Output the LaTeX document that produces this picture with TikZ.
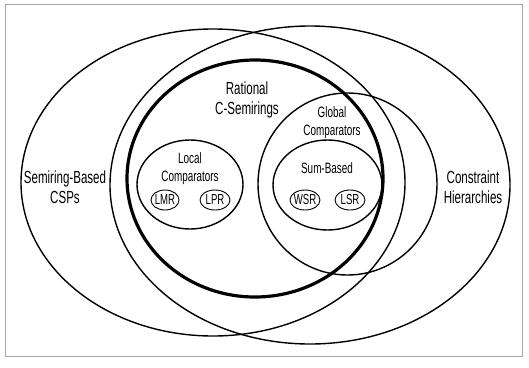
\documentclass[tikz,border=0pt]{standalone}
\usepackage{fontspec}
\setmainfont{Liberation Sans}[FakeStretch=0.66]
\begin{document}
\begin{tikzpicture}[x=1pt,y=-1pt,
  ring/.style={draw=black,line width=1.4pt},
  thickring/.style={draw=black,line width=3.2pt},
  smallring/.style={draw=black,line width=0.9pt},
  biglabel/.style={font=\fontsize{17.5}{20}\selectfont,align=center,inner sep=0pt},
  midlabel/.style={font=\fontsize{15}{18}\selectfont,align=center,inner sep=0pt},
  tinylabel/.style={font=\fontsize{14.5}{16}\selectfont,inner sep=0pt}]
\useasboundingbox (0,0) rectangle (529,367);
\draw[gray!70,line width=1pt] (5.5,4.5) rectangle (522,356.5);
% big ellipses
\draw[ring] (213,182.5) ellipse [x radius=192, y radius=153.5];
\draw[ring] (310,185) ellipse [x radius=200, y radius=159];
\draw[thickring] (255,178.5) ellipse [x radius=128, y radius=118.5];
\draw[ring] (347.5,184) ellipse [x radius=89.5, y radius=91];
\draw[ring] (190,184.5) ellipse [x radius=53, y radius=44.5];
\draw[ring] (327.5,185) ellipse [x radius=54.5, y radius=45];
% small ellipses
\draw[smallring] (165,200) ellipse [x radius=14, y radius=10];
\draw[smallring] (215,200) ellipse [x radius=15, y radius=10];
\draw[smallring] (305,200) ellipse [x radius=15, y radius=10];
\draw[smallring] (350,200) ellipse [x radius=15, y radius=10];
% labels
\node[biglabel] (sb) at (65,187) {Semiring-Based\\CSPs};
\node[biglabel] (ch) at (473,187) {Constraint\\Hierarchies};
\node[biglabel] (rc) at (247,100) {Rational\\C-Semirings};
\node[midlabel] (gc) at (332,122.5) {Global\\Comparators};
\node[midlabel] (lc) at (190,168.5) {Local\\Comparators};
\node[midlabel] (sum) at (327,168) {Sum-Based};
\node[tinylabel] (lmr) at (165,200) {LMR};
\node[tinylabel] (lpr) at (215,200) {LPR};
\node[tinylabel] (wsr) at (305,200) {WSR};
\node[tinylabel] (lsr) at (350,200) {LSR};
\end{tikzpicture}
\end{document}
